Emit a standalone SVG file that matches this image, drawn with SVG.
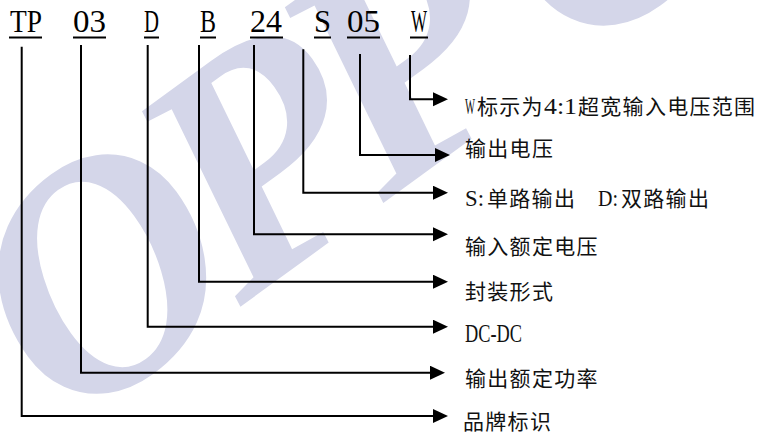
<svg xmlns="http://www.w3.org/2000/svg" width="761" height="434" viewBox="0 0 761 434">
<style>
  .wm { font-family: "Liberation Serif", serif; font-style: italic; font-weight: bold; font-size: 330px; letter-spacing: -25px; fill: #d4d6e9; }
  .code { font-family: "Liberation Serif", serif; font-size: 31px; fill: #000; }
  .ul { stroke: #000; stroke-width: 2; }
  .conn { fill: none; stroke: #000; stroke-width: 2; }
  .lbl { font-family: "Noto Sans CJK SC", sans-serif; font-size: 21px; letter-spacing: 1.3px; fill: #111; }
  .lat { font-family: "Liberation Serif", serif; font-size: 23px; letter-spacing: 0; }
  .big { font-size: 25px; }
</style>
<defs>
  <marker id="arr" markerUnits="userSpaceOnUse" markerWidth="16" markerHeight="16" refX="7" refY="7" orient="auto">
    <path d="M0,0 L15,7 L0,14 Z" fill="#000"/>
  </marker>
</defs>
<rect width="761" height="434" fill="#fff"/>
<text id="watermark" class="wm" transform="translate(68,432) rotate(-36)">OPP<tspan dx="60">O</tspan></text>

<g id="connectors">
  <path class="conn" d="M410,55 V99.3 H440" marker-end="url(#arr)"/>
  <path class="conn" d="M360,54 V155 H442" marker-end="url(#arr)"/>
  <path class="conn" d="M303.3,49.3 V192.7 H440" marker-end="url(#arr)"/>
  <path class="conn" d="M254,45 V234.3 H440" marker-end="url(#arr)"/>
  <path class="conn" d="M199,45 V281.7 H440" marker-end="url(#arr)"/>
  <path class="conn" d="M147.7,45 V326.7 H440" marker-end="url(#arr)"/>
  <path class="conn" d="M81,45 V372.7 H437" marker-end="url(#arr)"/>
  <path class="conn" d="M21.7,46.7 V416 H440" marker-end="url(#arr)"/>
</g>

<g id="node-TP"><text class="code" x="10" y="32" textLength="32" lengthAdjust="spacingAndGlyphs">TP</text><line class="ul" x1="9" y1="37.5" x2="42" y2="37.5"/></g>
<g id="node-03"><text class="code" x="73" y="32" textLength="33" lengthAdjust="spacingAndGlyphs">03</text><line class="ul" x1="73" y1="37.5" x2="106" y2="37.5"/></g>
<g id="node-D"><text class="code" x="144" y="32" textLength="15" lengthAdjust="spacingAndGlyphs">D</text><line class="ul" x1="144" y1="37.5" x2="159" y2="37.5"/></g>
<g id="node-B"><text class="code" x="200" y="32" textLength="16" lengthAdjust="spacingAndGlyphs">B</text><line class="ul" x1="200" y1="37.5" x2="216" y2="37.5"/></g>
<g id="node-24"><text class="code" x="250" y="32" textLength="32" lengthAdjust="spacingAndGlyphs">24</text><line class="ul" x1="250" y1="37.5" x2="283" y2="37.5"/></g>
<g id="node-S"><text class="code" x="314" y="32" textLength="17" lengthAdjust="spacingAndGlyphs">S</text><line class="ul" x1="314" y1="37.5" x2="331" y2="37.5"/></g>
<g id="node-05"><text class="code" x="347" y="32" textLength="33" lengthAdjust="spacingAndGlyphs">05</text><line class="ul" x1="347" y1="37.5" x2="380" y2="37.5"/></g>
<g id="node-W"><text class="code" x="411" y="32" textLength="16" lengthAdjust="spacingAndGlyphs">W</text><line class="ul" x1="410" y1="37.5" x2="428" y2="37.5"/></g>

<g id="label-W"><text class="lbl" y="113.5"><tspan class="lat" x="465" textLength="10" lengthAdjust="spacingAndGlyphs">W</tspan><tspan x="477">标示为</tspan><tspan class="lat" x="544" textLength="33" lengthAdjust="spacingAndGlyphs">4:1</tspan><tspan x="578">超宽输入电压范围</tspan></text></g>
<g id="label-05"><text class="lbl" x="465" y="155.5">输出电压</text></g>
<g id="label-S"><text class="lbl" y="205.5"><tspan class="lat" x="465" textLength="19" lengthAdjust="spacingAndGlyphs">S:</tspan><tspan x="487">单路输出</tspan><tspan class="lat" x="598" textLength="20" lengthAdjust="spacingAndGlyphs">D:</tspan><tspan x="621">双路输出</tspan></text></g>
<g id="label-24"><text class="lbl" x="465" y="253.5">输入额定电压</text></g>
<g id="label-B"><text class="lbl" x="465" y="298.5">封装形式</text></g>
<g id="label-D"><text class="lbl" y="342"><tspan class="lat big" x="465" textLength="57" lengthAdjust="spacingAndGlyphs">DC-DC</tspan></text></g>
<g id="label-03"><text class="lbl" x="465" y="385.5">输出额定功率</text></g>
<g id="label-TP"><text class="lbl" x="463" y="428.5">品牌标识</text></g>
</svg>
